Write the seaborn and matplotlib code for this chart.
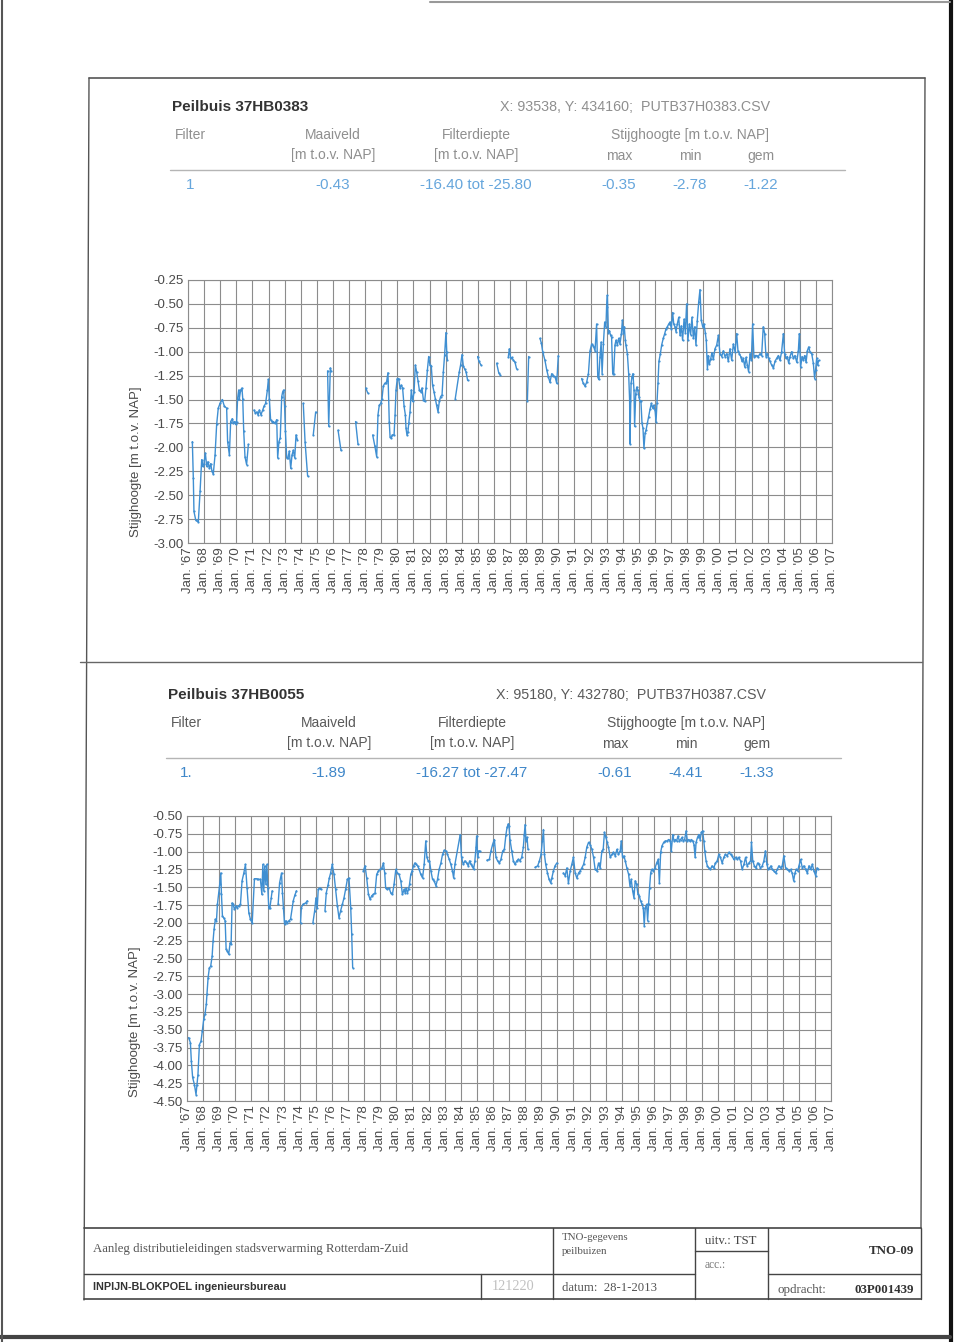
import matplotlib
matplotlib.use("Agg")
import matplotlib.pyplot as plt
from matplotlib.lines import Line2D
import numpy as np
import pandas as pd
import seaborn as sns

# ---- data (decimal year, stijghoogte m t.o.v. NAP); None = gap ----
top_year = [
    1967.27, 1967.33, 1967.37, 1967.48, 1967.64, 1967.75, 1967.85, 1967.91, 1967.99, 1968.08,
    1968.16, 1968.24, 1968.33, 1968.41, 1968.49, 1968.57, 1968.68, 1968.78, 1968.88, 1968.99,
    1969.13, 1969.26, 1969.40, 1969.46, 1969.57, 1969.65, 1969.75, 1969.82, 1969.90, 1969.96,
    1970.02, 1970.08, 1970.15, 1970.19, 1970.27, 1970.35, 1970.40, 1970.46, 1970.54, 1970.64, 1970.75, None,
    1971.10, 1971.18, 1971.27, 1971.35, 1971.43, 1971.53, 1971.64, 1971.72, 1971.82, 1971.93,
    1971.99, 1972.05, 1972.13, 1972.22, 1972.30, 1972.40, 1972.51, 1972.57, 1972.65, 1972.73,
    1972.82, 1972.88, 1972.94, 1973.00, 1973.05, 1973.13, 1973.21, 1973.29, 1973.38, 1973.46,
    1973.54, 1973.63, 1973.71, 1973.79, None,
    1974.16, 1974.27, 1974.43, None,
    1974.78, 1974.93, None,
    1975.67, 1975.74, 1975.84, 1975.88, None,
    1976.32, 1976.50, None,
    1977.41, 1977.56, None,
    1978.04, 1978.16, None,
    1978.47, 1978.61, 1978.72, 1978.80, 1978.88, 1978.97, 1979.05, 1979.13, 1979.22, 1979.28,
    1979.34, 1979.42, 1979.50, 1979.55, 1979.63, 1979.69, 1979.80, 1979.86, 1979.92, 1980.00,
    1980.08, 1980.17, 1980.25, 1980.33, 1980.42, 1980.50, 1980.54, 1980.60, 1980.66, 1980.71,
    1980.79, 1980.87, 1980.95, 1981.04, 1981.12, 1981.20, 1981.29, 1981.37, 1981.45, 1981.53,
    1981.62, 1981.70, 1981.78, 1981.87, 1981.95, 1982.03, 1982.11, 1982.19, 1982.28, 1982.36,
    1982.44, 1982.53, 1982.61, 1982.69, 1982.78, 1982.86, 1982.94, 1983.02, 1983.07, 1983.11, None,
    1983.60, 1983.85, 1983.93, 1984.02, 1984.10, 1984.18, 1984.27, 1984.37, None,
    1984.99, 1985.07, 1985.20, None,
    1986.17, 1986.30, 1986.38, None,
    1986.90, 1986.96, 1987.04, 1987.12, 1987.21, 1987.31, 1987.41, None,
    1988.08, 1988.16, None,
    1988.86, 1988.95, 1989.03, 1989.17, 1989.28, 1989.38, 1989.48, 1989.59, 1989.69, 1989.80,
    1989.90, 1990.00, None,
    1991.45, 1991.55, 1991.66, 1991.76, 1991.87, 1991.97, 1992.07, 1992.18, 1992.28, 1992.38,
    1992.45, 1992.51, 1992.59, 1992.66, 1992.72, 1992.80, 1992.88, 1992.96, 1993.00, 1993.05,
    1993.11, 1993.17, 1993.25, 1993.31, 1993.38, 1993.44, 1993.52, 1993.58, 1993.67, 1993.75,
    1993.83, 1993.92, 1993.98, 1994.04, 1994.10, 1994.16, 1994.20, 1994.29, 1994.37, 1994.43,
    1994.45, 1994.52, 1994.58, 1994.64, 1994.70, 1994.74, 1994.81, 1994.87, 1994.93, 1995.01,
    1995.07, 1995.13, 1995.20, 1995.26, 1995.32, 1995.39, 1995.45, 1995.53, 1995.61, 1995.70,
    1995.78, 1995.86, 1995.92, 1996.01, 1996.07, 1996.13, 1996.19, 1996.25, 1996.34, 1996.42,
    1996.52, 1996.61, 1996.69, 1996.77, 1996.86, 1996.94, 1997.02, 1997.10, 1997.17, 1997.25,
    1997.31, 1997.39, 1997.48, 1997.56, 1997.64, 1997.72, 1997.81, 1997.89, 1997.97, 1998.05,
    1998.14, 1998.22, 1998.30, 1998.39, 1998.47, 1998.55, 1998.63, 1998.72, 1998.80, 1998.88,
    1998.97, 1999.05, 1999.13, 1999.19, 1999.26, 1999.32, 1999.38, 1999.46, 1999.54, 1999.63,
    1999.73, 1999.84, 1999.94, 2000.04, 2000.15, 2000.25, 2000.35, 2000.46, 2000.56, 2000.66,
    2000.77, 2000.87, 2000.98, 2001.08, 2001.16, 2001.24, 2001.33, 2001.41, 2001.49, 2001.58,
    2001.66, 2001.74, 2001.82, 2001.91, 2001.99, 2002.07, 2002.15, 2002.24, 2002.32, 2002.42,
    2002.53, 2002.63, 2002.73, 2002.82, 2002.90, 2002.98, 2003.06, 2003.15, 2003.25, 2003.36,
    2003.46, 2003.56, 2003.67, 2003.77, 2003.87, 2003.98, 2004.06, 2004.14, 2004.22, 2004.31,
    2004.39, 2004.49, 2004.60, 2004.70, 2004.81, 2004.91, 2004.97, 2005.05, 2005.14, 2005.22,
    2005.30, 2005.39, 2005.47, 2005.55, 2005.63, 2005.74, 2005.84, 2005.92, 2005.98, 2006.05,
    2006.11, 2006.17,
]
top_level = [
    -1.94, -2.32, -2.67, -2.76, -2.78, -2.46, -2.13, -2.20, -2.17, -2.06,
    -2.20, -2.15, -2.22, -2.17, -2.25, -2.28, -2.08, -1.76, -1.59, -1.54,
    -1.50, -1.57, -1.59, -1.94, -2.08, -1.73, -1.70, -1.75, -1.73, -1.76,
    -1.73, -1.49, -1.40, -1.49, -1.40, -1.38, -1.49, -1.83, -2.10, -2.18, -1.97, None,
    -1.61, -1.64, -1.63, -1.66, -1.61, -1.66, -1.61, -1.57, -1.54, -1.40,
    -1.29, -1.49, -1.71, -1.73, -1.73, -1.75, -1.71, -2.11, -1.94, -1.90,
    -1.47, -1.42, -1.40, -1.57, -1.83, -2.11, -2.11, -2.04, -2.22, -2.08,
    -2.03, -2.11, -1.87, -1.92, None,
    -1.54, -1.94, -2.30, None,
    -1.87, -1.63, None,
    -1.20, -1.78, -1.17, -1.20, None,
    -1.82, -2.03, None,
    -1.73, -1.97, None,
    -1.38, -1.43, None,
    -1.87, -1.99, -2.10, -1.66, -1.56, -1.54, -1.49, -1.36, -1.33, -1.33,
    -1.31, -1.22, -1.73, -1.89, -1.90, -1.87, -1.87, -1.66, -1.40, -1.28,
    -1.28, -1.38, -1.35, -1.38, -1.57, -1.66, -1.80, -1.87, -1.84, -1.75,
    -1.63, -1.40, -1.52, -1.42, -1.14, -1.21, -1.31, -1.40, -1.42, -1.38,
    -1.50, -1.52, -1.38, -1.19, -1.05, -1.14, -1.15, -1.35, -1.42, -1.49,
    -1.56, -1.63, -1.52, -1.47, -1.45, -1.21, -1.03, -0.80, -1.00, -1.09, None,
    -1.49, -1.21, -1.14, -1.03, -1.15, -1.18, -1.21, -1.30, None,
    -1.05, -1.10, -1.14, None,
    -1.12, -1.22, -1.24, None,
    -1.05, -0.97, -1.07, -1.06, -1.09, -1.11, -1.18, None,
    -1.51, -1.05, None,
    -0.86, -0.91, -1.00, -1.09, -1.19, -1.26, -1.32, -1.23, -1.25, -1.26,
    -1.33, -1.04, None,
    -1.28, -1.33, -1.36, -1.32, -1.23, -0.99, -0.92, -0.94, -0.99, -0.71,
    -1.26, -1.29, -1.05, -0.90, -1.23, -0.92, -0.69, -0.74, -0.53, -0.41,
    -0.80, -0.78, -0.83, -0.85, -1.23, -1.23, -0.93, -0.88, -0.93, -0.86,
    -0.92, -0.81, -0.67, -0.80, -0.74, -0.88, -0.93, -1.02, -1.23, -1.51,
    -1.96, -1.33, -1.26, -1.23, -1.40, -1.78, -1.44, -1.37, -1.40, -1.47,
    -1.52, -1.51, -1.75, -1.80, -2.01, -1.85, -1.82, -1.75, -1.68, -1.60,
    -1.54, -1.59, -1.56, -1.61, -1.73, -1.54, -1.33, -1.10, -1.02, -0.93,
    -0.86, -0.81, -0.76, -0.74, -0.71, -0.69, -0.76, -0.59, -0.71, -0.74,
    -0.79, -0.71, -0.64, -0.83, -0.73, -0.88, -0.66, -0.80, -0.50, -0.88,
    -0.71, -0.82, -0.64, -0.86, -0.74, -0.93, -0.68, -0.48, -0.35, -0.67,
    -0.74, -0.71, -0.80, -0.88, -1.18, -1.04, -1.13, -1.08, -1.01, -1.08,
    -0.97, -0.93, -0.83, -1.02, -1.05, -0.99, -1.05, -1.02, -1.10, -0.97,
    -1.09, -0.92, -1.00, -0.81, -0.99, -1.02, -1.05, -1.10, -1.07, -1.16,
    -1.06, -1.14, -1.21, -1.02, -1.09, -0.71, -1.05, -1.04, -1.04, -1.05,
    -1.02, -1.04, -0.74, -0.81, -1.05, -1.02, -1.07, -1.10, -1.14, -1.17,
    -1.10, -1.07, -1.04, -1.09, -1.00, -0.81, -1.02, -1.07, -1.05, -1.12,
    -1.05, -1.00, -1.07, -1.04, -1.11, -0.99, -0.81, -1.16, -1.05, -1.09,
    -1.04, -1.11, -0.99, -0.95, -1.00, -1.02, -1.12, -1.28, -1.19, -1.07,
    -1.14, -1.09,
]

bottom_year = [
    1967.10, 1967.21, 1967.27, 1967.35, 1967.46, 1967.56, 1967.62, 1967.68, 1967.77, 1967.87,
    1967.95, 1968.04, 1968.12, 1968.20, 1968.24, 1968.31, 1968.39, 1968.47, 1968.56, 1968.62,
    1968.68, 1968.76, 1968.83, 1968.89, 1968.97, 1969.03, 1969.10, 1969.14, 1969.20, 1969.28,
    1969.37, 1969.43, 1969.51, 1969.59, 1969.68, 1969.74, 1969.80, 1969.86, 1969.95, 1970.03,
    1970.11, 1970.22, 1970.32, 1970.42, 1970.53, 1970.63, 1970.73, 1970.84, 1970.94, 1971.05,
    1971.19, 1971.32, 1971.44, 1971.56, 1971.65, 1971.71, 1971.77, 1971.83, 1971.90, 1971.96,
    1972.02, 1972.08, 1972.15, 1972.23, 1972.29, None,
    1972.66, 1972.75, 1972.87, 1972.93, 1972.99, 1973.06, 1973.14, 1973.22, 1973.33, 1973.43,
    1973.60, 1973.70, 1973.80, None,
    1974.05, 1974.10, 1974.20, 1974.37, 1974.47, None,
    1974.82, 1974.93, 1975.01, 1975.09, 1975.15, 1975.24, 1975.30, None,
    1975.57, 1975.65, 1975.76, 1975.84, 1975.92, 1976.02, 1976.13, 1976.23, 1976.34, 1976.44,
    1976.54, 1976.65, 1976.75, 1976.85, 1976.96, 1977.06, 1977.17, 1977.23, 1977.29, None,
    1977.95, 1978.06, 1978.16, 1978.27, 1978.37, 1978.47, 1978.58, 1978.68, 1978.78, 1978.89,
    1978.99, 1979.10, 1979.20, 1979.28, 1979.34, 1979.45, 1979.55, 1979.66, 1979.76, 1979.86,
    1979.97, 1980.07, 1980.17, 1980.28, 1980.38, 1980.49, 1980.55, 1980.61, 1980.69, 1980.76,
    1980.82, 1980.90, 1980.98, 1981.07, 1981.15, 1981.23, 1981.32, 1981.42, 1981.52, 1981.63,
    1981.73, 1981.83, 1981.90, 1981.98, 1982.06, 1982.15, 1982.25, 1982.35, 1982.46, 1982.56,
    1982.66, 1982.77, 1982.87, 1982.98, 1983.08, 1983.18, 1983.29, 1983.39, 1983.49, 1983.56,
    1983.64, 1983.97, 1984.05, 1984.16, 1984.26, 1984.37, 1984.47, 1984.55, 1984.64, 1984.72,
    1984.80, 1984.88, 1984.95, 1984.99, 1985.05, 1985.11, 1985.17, None,
    1985.63, 1985.78, 1985.88, 1985.98, 1986.09, 1986.19, 1986.29, 1986.40, 1986.50, 1986.61,
    1986.71, 1986.81, 1986.88, 1986.96, 1987.00, 1987.06, 1987.17, 1987.27, 1987.37, 1987.48,
    1987.58, 1987.68, 1987.79, 1987.89, 1987.95, 1988.00, 1988.06, 1988.12, 1988.18, None,
    1988.62, 1988.78, 1988.89, 1988.99, 1989.07, 1989.14, 1989.20, 1989.28, 1989.39, 1989.49,
    1989.59, 1989.66, 1989.76, 1989.86, 1989.97, None,
    1990.38, 1990.49, 1990.59, 1990.69, 1990.80, 1990.90, 1991.00, 1991.11, 1991.21, 1991.32,
    1991.42, 1991.52, 1991.63, 1991.73, 1991.83, 1991.94, 1992.04, 1992.15, 1992.25, 1992.35,
    1992.46, 1992.56, 1992.66, 1992.77, 1992.85, 1992.93, 1993.02, 1993.10, 1993.18, 1993.29,
    1993.39, 1993.49, 1993.60, 1993.70, 1993.80, 1993.91, 1993.97, 1994.05, 1994.14, 1994.22,
    1994.32, 1994.43, 1994.51, 1994.59, 1994.68, 1994.76, 1994.84, 1994.93, 1995.01, 1995.09,
    1995.17, 1995.26, 1995.34, 1995.40, 1995.46, 1995.55, 1995.61, 1995.67, 1995.73, 1995.80,
    1995.86, 1995.96, 1996.07, 1996.17, 1996.27, 1996.34, 1996.42, 1996.50, 1996.61, 1996.71,
    1996.81, 1996.92, 1997.02, 1997.08, 1997.17, 1997.25, 1997.33, 1997.41, 1997.50, 1997.58,
    1997.66, 1997.75, 1997.83, 1997.91, 1998.00, 1998.08, 1998.16, 1998.24, 1998.33, 1998.41,
    1998.49, 1998.56, 1998.62, 1998.71, 1998.79, 1998.87, 1998.95, 1999.03, 1999.10, 1999.16,
    1999.24, 1999.32, 1999.41, 1999.51, 1999.61, 1999.72, 1999.82, 1999.93, 2000.03, 2000.13,
    2000.24, 2000.34, 2000.44, 2000.55, 2000.65, 2000.76, 2000.86, 2000.96, 2001.07, 2001.17,
    2001.27, 2001.38, 2001.48, 2001.59, 2001.69, 2001.79, 2001.90, 2002.00, 2002.06, 2002.14,
    2002.24, 2002.34, 2002.44, 2002.52, 2002.62, 2002.73, 2002.83, 2002.93, 2003.02, 2003.10,
    2003.18, 2003.27, 2003.35, 2003.45, 2003.56, 2003.66, 2003.76, 2003.87, 2003.97, 2004.07,
    2004.18, 2004.28, 2004.39, 2004.49, 2004.59, 2004.68, 2004.76, 2004.84, 2004.93, 2005.01,
    2005.11, 2005.22, 2005.32, 2005.42, 2005.53, 2005.63, 2005.73, 2005.84, 2005.94, 2006.05,
    2006.13, 2006.21,
]
bottom_level = [
    -3.61, -3.68, -3.94, -4.17, -4.27, -4.41, -4.27, -4.13, -3.71, -3.66,
    -3.52, -3.35, -3.28, -3.14, -3.00, -2.77, -2.63, -2.61, -2.47, -2.25,
    -2.09, -1.95, -1.97, -1.74, -1.58, -1.46, -1.30, -1.60, -1.90, -1.93,
    -1.97, -2.37, -2.40, -2.44, -2.28, -2.30, -1.72, -1.74, -1.81, -1.76,
    -1.79, -1.76, -1.74, -1.41, -1.30, -1.18, -1.51, -1.86, -1.95, -2.00,
    -1.38, -1.38, -1.39, -1.39, -1.60, -1.18, -1.55, -1.20, -1.46, -1.18,
    -1.51, -1.79, -1.79, -1.65, -1.55, None,
    -1.74, -1.44, -1.30, -1.58, -1.79, -2.02, -1.97, -2.00, -1.97, -1.95,
    -1.69, -1.61, -1.55, None,
    -2.00, -1.79, -1.74, -1.72, -1.69, None,
    -2.00, -1.83, -1.65, -1.79, -1.53, -1.51, -1.53, None,
    -1.83, -1.58, -1.47, -1.37, -1.30, -1.18, -1.32, -1.53, -1.76, -1.93,
    -1.83, -1.74, -1.65, -1.53, -1.39, -1.37, -1.79, -2.16, -2.63, None,
    -1.27, -1.20, -1.37, -1.60, -1.67, -1.62, -1.60, -1.58, -1.32, -1.27,
    -1.25, -1.23, -1.16, -1.30, -1.51, -1.53, -1.51, -1.58, -1.60, -1.46,
    -1.25, -1.30, -1.32, -1.41, -1.60, -1.53, -1.58, -1.51, -1.58, -1.53,
    -1.46, -1.32, -1.27, -1.20, -1.16, -1.18, -1.20, -1.25, -1.32, -1.37,
    -1.18, -0.85, -1.08, -1.13, -1.13, -1.27, -1.39, -1.41, -1.48, -1.39,
    -1.25, -1.16, -1.04, -0.98, -0.99, -1.04, -1.11, -1.18, -1.27, -1.37,
    -1.18, -0.76, -1.08, -1.18, -1.13, -1.16, -1.20, -1.13, -1.18, -1.20,
    -1.25, -1.13, -0.94, -0.78, -1.08, -0.99, -0.99, None,
    -1.12, -1.11, -0.99, -0.90, -0.83, -1.08, -1.13, -1.16, -1.11, -0.99,
    -0.97, -0.76, -0.66, -0.61, -0.64, -0.83, -0.99, -1.13, -1.18, -1.13,
    -1.11, -1.13, -1.08, -0.94, -0.76, -0.62, -0.85, -0.80, -0.97, None,
    -1.22, -1.20, -1.13, -1.04, -0.85, -0.69, -1.04, -1.18, -1.30, -1.39,
    -1.44, -1.37, -1.27, -1.20, -1.16, None,
    -1.30, -1.34, -1.23, -1.44, -1.27, -1.18, -1.08, -1.30, -1.37, -1.30,
    -1.27, -1.23, -1.18, -1.08, -0.94, -0.87, -0.90, -0.97, -1.08, -1.25,
    -1.27, -1.16, -1.23, -0.99, -0.97, -0.73, -0.80, -0.87, -0.94, -1.08,
    -1.04, -1.01, -1.06, -0.97, -1.04, -0.99, -0.85, -1.08, -1.06, -1.13,
    -1.23, -1.32, -1.48, -1.39, -1.55, -1.65, -1.41, -1.46, -1.60, -1.62,
    -1.69, -1.74, -1.79, -2.04, -1.79, -1.74, -1.97, -1.74, -1.51, -1.30,
    -1.25, -1.27, -1.23, -1.16, -1.11, -1.44, -1.01, -0.92, -0.87, -0.85,
    -0.85, -0.83, -0.85, -0.99, -0.76, -0.85, -0.83, -0.85, -0.78, -0.85,
    -0.83, -0.80, -0.85, -0.83, -0.71, -0.85, -0.83, -0.85, -0.83, -0.85,
    -0.90, -1.08, -0.87, -0.80, -0.76, -0.83, -0.73, -0.71, -0.85, -0.99,
    -1.13, -1.20, -1.23, -1.25, -1.20, -1.23, -1.16, -1.13, -1.04, -1.08,
    -1.16, -1.08, -1.04, -1.06, -1.01, -1.04, -1.06, -1.11, -1.08, -1.11,
    -1.08, -1.13, -1.25, -1.18, -1.08, -1.20, -1.16, -1.13, -0.87, -1.13,
    -1.20, -1.23, -1.16, -1.18, -1.23, -1.20, -1.13, -0.99, -1.18, -1.25,
    -1.23, -1.20, -1.25, -1.27, -1.30, -1.25, -1.20, -1.23, -1.20, -1.06,
    -1.23, -1.25, -1.27, -1.25, -1.30, -1.41, -1.30, -1.25, -1.27, -1.20,
    -1.11, -1.23, -1.20, -1.25, -1.30, -1.20, -1.25, -1.18, -1.27, -1.34,
    -1.23, -1.25,
]

tick_years = list(range(1967, 2008))
tick_labels = ["Jan. '%02d" % (y % 100) for y in tick_years]
top_yticks = [-0.25, -0.50, -0.75, -1.00, -1.25, -1.50, -1.75, -2.00, -2.25, -2.50, -2.75, -3.00]
bottom_yticks = [-0.50, -0.75, -1.00, -1.25, -1.50, -1.75, -2.00, -2.25, -2.50, -2.75,
                 -3.00, -3.25, -3.50, -3.75, -4.00, -4.25, -4.50]

top_header = ["Peilbuis 37HB0383", "X: 93538, Y: 434160;  PUTB37H0383.CSV"]
top_values = ["1", "-0.43", "-16.40 tot -25.80", "-0.35", "-2.78", "-1.22"]
bottom_header = ["Peilbuis 37HB0055", "X: 95180, Y: 432780;  PUTB37H0387.CSV"]
bottom_values = ["1.", "-1.89", "-16.27 tot -27.47", "-0.61", "-4.41", "-1.33"]

assert len(top_year) == len(top_level)
assert len(bottom_year) == len(bottom_level)

sns.set_style("white")
plt.rcParams['font.family'] = ['Liberation Sans', 'DejaVu Sans']

W, H = 960, 1342
fig = plt.figure(figsize=(W / 100, H / 100), dpi=100)
fig.patch.set_facecolor('white')


def put(x, y, s, **kw):
    kw.setdefault('va', 'center')
    fig.text(x / W, 1 - y / H, s, **kw)


def line(x0, y0, x1, y1, **kw):
    fig.add_artist(Line2D([x0 / W, x1 / W], [1 - y0 / H, 1 - y1 / H],
                          transform=fig.transFigure, **kw))


def series_frame(years, levels):
    seg, rows = 0, []
    for yr, lv in zip(years, levels):
        if yr is None:
            seg += 1
            continue
        rows.append((yr, lv, seg))
    return pd.DataFrame(rows, columns=['year', 'level', 'seg'])


def draw_chart(rect, years, levels, yticks, label_y):
    ax = fig.add_axes(rect)
    df = series_frame(years, levels)
    sns.lineplot(data=df, x='year', y='level', units='seg', estimator=None, sort=False,
                 color='#3f8fd2', lw=1.0, marker='o', markersize=1.6,
                 markeredgewidth=0, ax=ax, legend=False)
    ax.set_xlim(1967, 2007)
    ax.set_ylim(yticks[-1], yticks[0])
    ax.set_xticks(tick_years)
    ax.set_xticklabels(tick_labels, rotation=90)
    ax.set_yticks(yticks)
    ax.set_yticklabels(['%.2f' % v for v in yticks])
    ax.tick_params(axis='both', labelsize=9.5, labelcolor='#4a4a4a', length=0, pad=3)
    ax.grid(True, color='#8c8c8c', lw=0.8)
    ax.set_axisbelow(True)
    for sp in ax.spines.values():
        sp.set_color('#8c8c8c')
        sp.set_linewidth(0.8)
    ax.set_xlabel('')
    ax.set_ylabel('Stijghoogte [m t.o.v. NAP]', fontsize=9.5, color='#4a4a4a')
    ax.yaxis.set_label_coords(-0.072, label_y)
    return ax


def draw_header(y0, x0, head, values, lab_col, val_col):
    # y0 = title row, x0 = left edge of the "Filter" column
    put(x0, y0, head[0], fontsize=11, fontweight='bold', color='#333333')
    put(x0 + 328, y0, head[1], fontsize=10.3, color=lab_col)
    r1, r2, r3 = y0 + 28, y0 + 48, y0 + 78
    put(x0 + 3, r1, 'Filter', fontsize=10, color=lab_col)
    put(x0 + 161, r1, 'Maaiveld', fontsize=10, color=lab_col, ha='center')
    put(x0 + 161, r2, '[m t.o.v. NAP]', fontsize=10, color=lab_col, ha='center')
    put(x0 + 304, r1, 'Filterdiepte', fontsize=10, color=lab_col, ha='center')
    put(x0 + 304, r2, '[m t.o.v. NAP]', fontsize=10, color=lab_col, ha='center')
    put(x0 + 518, r1, 'Stijghoogte [m t.o.v. NAP]', fontsize=10, color=lab_col, ha='center')
    for dx, s in zip([447, 518, 589], ['max', 'min', 'gem']):
        put(x0 + dx, r2 + 1, s, fontsize=10, color=lab_col, ha='center')
    line(x0 - 2, y0 + 63, x0 + 673, y0 + 63, color='#b5b5b5', lw=1.0)
    for dx, s in zip([18, 161, 304, 447, 518, 589], values):
        put(x0 + dx, r3, s, fontsize=11, color=val_col, ha='center')


# ---- header blocks ----
draw_header(107, 172, top_header, top_values, '#8f8f8f', '#66a6dc')
draw_header(695, 168, bottom_header, bottom_values, '#5a5a5a', '#3f87c9')

# ---- charts ----
draw_chart([188 / W, 1 - 543 / H, 644 / W, 263 / H], top_year, top_level, top_yticks, 0.31)
draw_chart([187 / W, 1 - 1101 / H, 644 / W, 285 / H], bottom_year, bottom_level, bottom_yticks, 0.28)

# ---- frame lines of the drawing sheet ----
line(89, 78, 925, 78, color='#555555', lw=1.2)
line(89, 78, 84, 1300, color='#555555', lw=1.0)
line(925, 78, 921, 1228, color='#555555', lw=1.0)
line(80, 662, 922, 662, color='#666666', lw=1.0)

# page edges of the scan
line(951, 0, 951, 1342, color='#111111', lw=3)
line(0, 1337, 950, 1337, color='#444444', lw=3)
line(2, 0, 2, 1342, color='#555555', lw=1.5)
line(430, 1.5, 950, 1.5, color='#999999', lw=1.5)

# ---- title block (footer) ----
fc = '#444444'
line(84, 1228, 921, 1228, color=fc, lw=1.2)
line(84, 1299, 921, 1299, color=fc, lw=1.2)
line(84, 1274, 695, 1274, color=fc, lw=1.0)
line(768, 1274, 921, 1274, color=fc, lw=1.0)
line(695, 1251, 768, 1251, color=fc, lw=1.0)
for xv in (553, 695, 768):
    line(xv, 1228, xv, 1299, color=fc, lw=1.0)
line(481, 1274, 481, 1299, color=fc, lw=1.0)
line(921, 1228, 921, 1299, color=fc, lw=1.0)

serif = ['Liberation Serif', 'DejaVu Serif']
put(93, 1249, 'Aanleg distributieleidingen stadsverwarming Rotterdam-Zuid',
    fontsize=9.2, family=serif, color='#555555')
put(562, 1238, 'TNO-gegevens', fontsize=7.8, family=serif, color='#555555')
put(562, 1252, 'peilbuizen', fontsize=7.8, family=serif, color='#555555')
put(705, 1241, 'uitv.: TST', fontsize=9.3, family=serif, color='#444444')
put(705, 1265, 'acc.:', fontsize=8.3, family=serif, color='#777777')
put(914, 1251, 'TNO-09', fontsize=9.3, family=serif, fontweight='bold', color='#333333', ha='right')
put(93, 1287, 'INPIJN-BLOKPOEL ingenieursbureau', fontsize=7.8, fontweight='bold', color='#333333')
put(513, 1287, '121220', fontsize=10.3, family=serif, color='#c0c0c0', ha='center')
put(562, 1288, 'datum:  28-1-2013', fontsize=9.2, family=serif, color='#555555')
put(777, 1290, 'opdracht:', fontsize=9.4, family=serif, color='#555555')
put(914, 1290, '03P001439', fontsize=9.3, family=serif, fontweight='bold', color='#333333', ha='right')

fig.savefig('out.png', dpi=100)
